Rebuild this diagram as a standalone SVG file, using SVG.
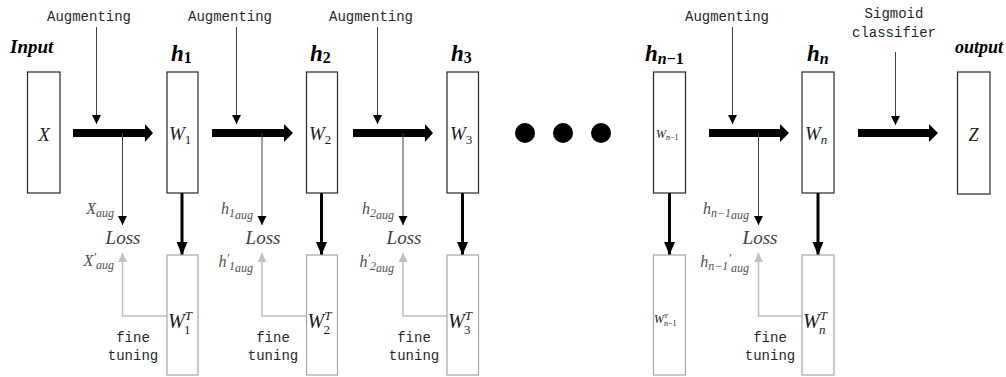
<svg xmlns="http://www.w3.org/2000/svg" width="1006" height="377" viewBox="0 0 1006 377">
<style>
.box{fill:#fff;stroke:#262626;stroke-width:1.2}
.gbox{fill:#fff;stroke:#a6a6a6;stroke-width:1.2}
.mono{font-family:"Liberation Mono","DejaVu Sans Mono",monospace;font-size:14px;fill:#262626}
.math{font-family:"Liberation Serif","DejaVu Serif",serif;font-style:italic;fill:#1a1a1a}
.big{font-family:"Liberation Serif","DejaVu Serif",serif;font-style:italic;font-weight:bold;fill:#000}
.lbl{font-family:"Liberation Serif","DejaVu Serif",serif;font-style:italic;font-size:16px;fill:#505050}
.loss{font-family:"Liberation Serif","DejaVu Serif",serif;font-style:italic;font-size:19px;fill:#404040}
.thin{stroke:#404040;stroke-width:1;fill:none}
.gray{stroke:#bfbfbf;stroke-width:1.5;fill:none}
.thick{stroke:#000;stroke-width:3;fill:none}
</style>
<defs>
<marker id="ah" markerUnits="userSpaceOnUse" markerWidth="10" markerHeight="10" refX="9" refY="4.5" orient="auto"><path d="M0,0 L9,4.5 L0,9 z" fill="#000"/></marker>
<marker id="ag" markerUnits="userSpaceOnUse" markerWidth="10" markerHeight="10" refX="9" refY="4.5" orient="auto"><path d="M0,0 L9,4.5 L0,9 z" fill="#bfbfbf"/></marker>
<marker id="at" markerUnits="userSpaceOnUse" markerWidth="14" markerHeight="12" refX="13" refY="5.5" orient="auto"><path d="M0,0 L13,5.5 L0,11 z" fill="#000"/></marker>
</defs>

<g id="connectors">
  <!-- thick horizontal arrows -->
  <polygon points="73,129 145,129 145,124 153,133 145,142 145,137 73,137" fill="#000"/>
  <polygon points="212,129 284,129 284,124 293,133 284,142 284,137 212,137" fill="#000"/>
  <polygon points="353,129 425,129 425,124 433,133 425,142 425,137 353,137" fill="#000"/>
  <polygon points="709,129 780,129 780,124 789,133 780,142 780,137 709,137" fill="#000"/>
  <polygon points="858,129 929,129 929,124 938,133 929,142 929,137 858,137" fill="#000"/>
  <!-- augmenting arrows -->
  <line class="thin" x1="96.5" y1="27" x2="96.5" y2="124" marker-end="url(#ah)"/>
  <line class="thin" x1="236.5" y1="27" x2="236.5" y2="124" marker-end="url(#ah)"/>
  <line class="thin" x1="377.5" y1="27" x2="377.5" y2="124" marker-end="url(#ah)"/>
  <line class="thin" x1="732.5" y1="27" x2="732.5" y2="124" marker-end="url(#ah)"/>
  <line class="thin" x1="895.5" y1="52" x2="895.5" y2="125" marker-end="url(#ah)"/>
  <!-- down to loss -->
  <line class="thin" x1="122.5" y1="133" x2="122.5" y2="225" marker-end="url(#ah)"/>
  <line class="thin" x1="262" y1="133" x2="262" y2="225" marker-end="url(#ah)"/>
  <line class="thin" x1="403" y1="133" x2="403" y2="225" marker-end="url(#ah)"/>
  <line class="thin" x1="758.5" y1="133" x2="758.5" y2="225" marker-end="url(#ah)"/>
  <!-- thick down arrows -->
  <line class="thick" x1="182" y1="193" x2="182" y2="255" marker-end="url(#at)"/>
  <line class="thick" x1="321.5" y1="193" x2="321.5" y2="255" marker-end="url(#at)"/>
  <line class="thick" x1="462.5" y1="193" x2="462.5" y2="255" marker-end="url(#at)"/>
  <line class="thick" x1="669.5" y1="193" x2="669.5" y2="255" marker-end="url(#at)"/>
  <line class="thick" x1="818" y1="193" x2="818" y2="255" marker-end="url(#at)"/>
  <!-- gray fine tuning arrows -->
  <polyline class="gray" points="167,316 122.5,316 122.5,253" marker-end="url(#ag)"/>
  <polyline class="gray" points="306.5,316 262,316 262,253" marker-end="url(#ag)"/>
  <polyline class="gray" points="447,316 403,316 403,253" marker-end="url(#ag)"/>
  <polyline class="gray" points="802,316 758.5,316 758.5,253" marker-end="url(#ag)"/>
</g>

<g id="labels">
  <text class="mono" x="89" y="21" text-anchor="middle">Augmenting</text>
  <text class="mono" x="230" y="21" text-anchor="middle">Augmenting</text>
  <text class="mono" x="371" y="21" text-anchor="middle">Augmenting</text>
  <text class="mono" x="727" y="21" text-anchor="middle">Augmenting</text>
  <text class="mono" x="894" y="18" text-anchor="middle">Sigmoid</text>
  <text class="mono" x="894" y="37" text-anchor="middle">classifier</text>

  <text class="mono" x="133" y="342" text-anchor="middle">fine</text>
  <text class="mono" x="133" y="360" text-anchor="middle">tuning</text>
  <text class="mono" x="273" y="342" text-anchor="middle">fine</text>
  <text class="mono" x="273" y="360" text-anchor="middle">tuning</text>
  <text class="mono" x="414" y="342" text-anchor="middle">fine</text>
  <text class="mono" x="414" y="360" text-anchor="middle">tuning</text>
  <text class="mono" x="770" y="342" text-anchor="middle">fine</text>
  <text class="mono" x="770" y="360" text-anchor="middle">tuning</text>

  <text class="loss" x="123" y="244" text-anchor="middle">Loss</text>
  <text class="loss" x="263" y="244" text-anchor="middle">Loss</text>
  <text class="loss" x="404" y="244" text-anchor="middle">Loss</text>
  <text class="loss" x="760" y="244" text-anchor="middle">Loss</text>

  <text class="lbl" x="114" y="214" text-anchor="end">X<tspan dy="3" font-size="12">aug</tspan></text>
  <text class="lbl" x="114" y="266" text-anchor="end">X<tspan dy="-5" font-size="12">′</tspan><tspan dy="8" font-size="12">aug</tspan></text>
  <text class="lbl" x="253" y="214" text-anchor="end">h<tspan dy="3" font-size="12">1</tspan><tspan dy="2" font-size="12">aug</tspan></text>
  <text class="lbl" x="253" y="267" text-anchor="end">h<tspan dy="-5" font-size="12">′</tspan><tspan dy="8" font-size="12">1</tspan><tspan dy="2" font-size="12">aug</tspan></text>
  <text class="lbl" x="394" y="214" text-anchor="end">h<tspan dy="3" font-size="12">2</tspan><tspan dy="2" font-size="12">aug</tspan></text>
  <text class="lbl" x="394" y="267" text-anchor="end">h<tspan dy="-5" font-size="12">′</tspan><tspan dy="8" font-size="12">2</tspan><tspan dy="2" font-size="12">aug</tspan></text>
  <text class="lbl" x="749" y="214" text-anchor="end">h<tspan dy="3" font-size="12">n−1</tspan><tspan dy="2" font-size="12">aug</tspan></text>
  <text class="lbl" x="749" y="267" text-anchor="end">h<tspan dy="3" font-size="12">n−1</tspan><tspan dy="-8" font-size="12">′</tspan><tspan dy="10" font-size="12">aug</tspan></text>

  <text class="big" x="10" y="53" font-size="19">Input</text>
  <text class="big" x="1003" y="53" font-size="18" text-anchor="end">output</text>
</g>

<circle cx="525" cy="133" r="10" fill="#000"/>
<circle cx="563" cy="133" r="10" fill="#000"/>
<circle cx="601" cy="133" r="10" fill="#000"/>

<g id="node-X">
  <rect class="box" x="27.5" y="72" width="32.5" height="121"/>
  <text class="math" x="44" y="141" font-size="19" text-anchor="middle">X</text>
</g>
<g id="node-h1">
  <text class="big" x="171" y="61" font-size="23">h<tspan font-size="16" font-style="normal" dy="2">1</tspan></text>
  <rect class="box" x="167" y="72" width="31" height="121"/>
  <text class="math" x="169" y="140" font-size="19">W<tspan font-size="13" font-style="normal" dy="4">1</tspan></text>
</g>
<g id="node-h1T">
  <rect class="gbox" x="167" y="255" width="31" height="120"/>
  <text class="math" x="168" y="328" font-size="20">W<tspan font-size="13" dy="-8">T</tspan><tspan font-size="13" font-style="normal" dx="-8" dy="14">1</tspan></text>
</g>
<g id="node-h2">
  <text class="big" x="310" y="61" font-size="23">h<tspan font-size="16" font-style="normal" dy="2">2</tspan></text>
  <rect class="box" x="306.5" y="72" width="31" height="121"/>
  <text class="math" x="309" y="140" font-size="19">W<tspan font-size="13" font-style="normal" dy="4">2</tspan></text>
</g>
<g id="node-h2T">
  <rect class="gbox" x="306.5" y="255" width="31" height="120"/>
  <text class="math" x="307.5" y="328" font-size="20">W<tspan font-size="13" dy="-8">T</tspan><tspan font-size="13" font-style="normal" dx="-8" dy="14">2</tspan></text>
</g>
<g id="node-h3">
  <text class="big" x="451" y="61" font-size="23">h<tspan font-size="16" font-style="normal" dy="2">3</tspan></text>
  <rect class="box" x="447" y="72" width="31.5" height="121"/>
  <text class="math" x="450" y="140" font-size="19">W<tspan font-size="13" font-style="normal" dy="4">3</tspan></text>
</g>
<g id="node-h3T">
  <rect class="gbox" x="447" y="255" width="31.5" height="120"/>
  <text class="math" x="448" y="328" font-size="20">W<tspan font-size="13" dy="-8">T</tspan><tspan font-size="13" font-style="normal" dx="-8" dy="14">3</tspan></text>
</g>
<g id="node-hn1">
  <text class="big" x="645" y="61" font-size="23">h<tspan font-size="16" dy="3">n</tspan><tspan font-size="16" font-style="normal">−1</tspan></text>
  <rect class="box" x="653.5" y="72" width="32" height="121"/>
  <text class="math" x="656" y="138" font-size="12" fill="#595959">W<tspan font-size="8" dy="2">n</tspan><tspan font-size="8" font-style="normal">−1</tspan></text>
</g>
<g id="node-hn1T">
  <rect class="gbox" x="653.5" y="255" width="32" height="120"/>
  <text class="math" x="654" y="323" font-size="12" fill="#595959">W<tspan font-size="7" dy="-5">T</tspan><tspan font-size="8" dx="-4" dy="8">n</tspan><tspan font-size="8" font-style="normal">−1</tspan></text>
</g>
<g id="node-hn">
  <text class="big" x="807" y="61" font-size="23">h<tspan font-size="16" dy="3">n</tspan></text>
  <rect class="box" x="802" y="72" width="32" height="121"/>
  <text class="math" x="805" y="140" font-size="19">W<tspan font-size="13" dy="4">n</tspan></text>
</g>
<g id="node-hnT">
  <rect class="gbox" x="802" y="255" width="32" height="120"/>
  <text class="math" x="803" y="328" font-size="20">W<tspan font-size="13" dy="-8">T</tspan><tspan font-size="13" dx="-8" dy="14">n</tspan></text>
</g>
<g id="node-Z">
  <rect class="box" x="957.5" y="72" width="32.5" height="122"/>
  <text class="math" x="973.5" y="141" font-size="18" text-anchor="middle">Z</text>
</g>
</svg>
